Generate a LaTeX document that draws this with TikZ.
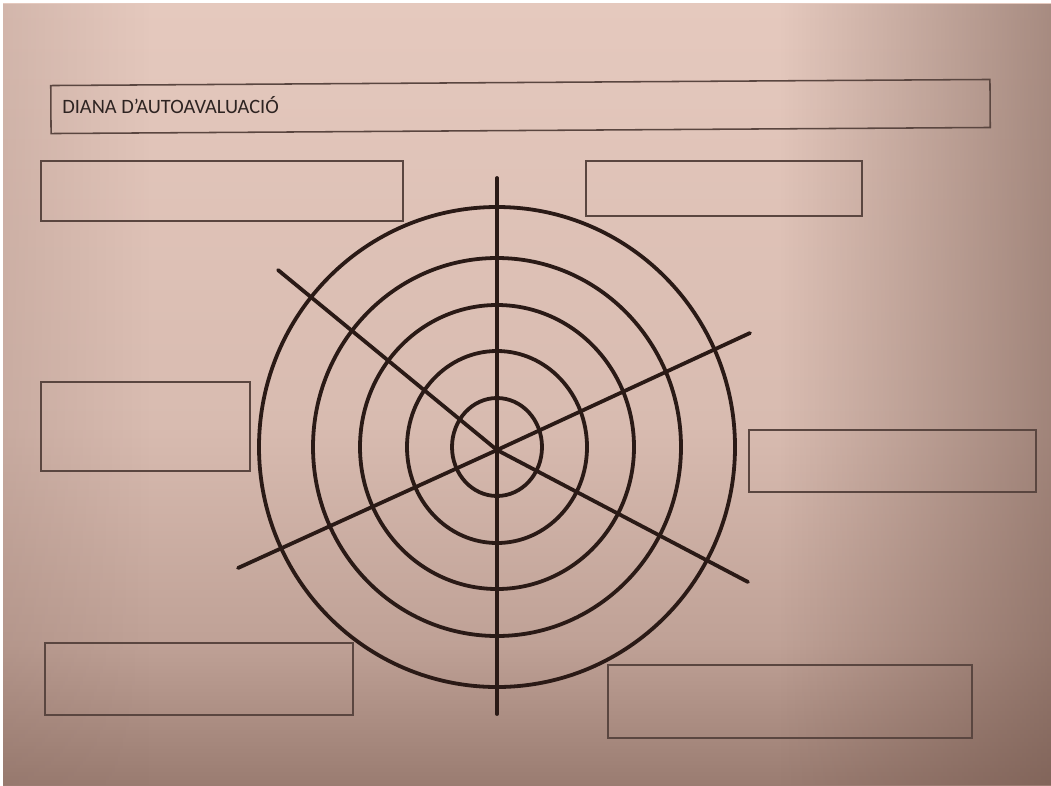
\documentclass[tikz,border=0pt]{standalone}
\usepackage{fontspec}
\setmainfont{Carlito}
\usetikzlibrary{fit,fadings}
\definecolor{paperTop}{HTML}{E5C9BE}
\definecolor{paperMid}{HTML}{D8BBB0}
\definecolor{paperLow}{HTML}{BFA196}
\definecolor{paperBot}{HTML}{9A7C71}
\definecolor{rightDark}{HTML}{6A4E44}
\definecolor{leftDark}{HTML}{8A6C62}
\definecolor{inkc}{HTML}{2A1A16}
\definecolor{boxc}{HTML}{5A4640}
\definecolor{textc}{HTML}{2E2422}
\pgfdeclareverticalshading{paperv}{100bp}{color(0bp)=(paperBot); color(25bp)=(paperBot); color(34bp)=(paperLow); color(48bp)=(paperMid); color(75bp)=(paperTop); color(100bp)=(paperTop)}
\begin{document}
\begin{tikzpicture}[x=0.025cm,y=-0.025cm,
  ink/.style={draw=inkc, line width=2.7pt, line cap=round},
  box/.style={draw=boxc, line width=1.1pt, inner sep=0pt}]
\useasboundingbox (0,0) rectangle (1051,785);
% paper
\fill[white] (0,0) rectangle (1051,785);
\shade[shading=paperv] (3,3) rectangle (1051,785);
\fill[rightDark, opacity=0.5, path fading=west] (780,3) rectangle (1051,785);
\fill[leftDark, opacity=0.2, path fading=east] (3,3) rectangle (150,785);
% boxes
\node[box, minimum width=23.475cm, minimum height=1.2cm, rotate=0.37] (title) at (520.5,106.5) {};
\node[anchor=west, text=textc, font=\fontsize{14.5}{16}\selectfont, inner sep=0pt] (ttext) at (62,105) {DIANA D’AUTOAVALUACIÓ};
\node[box, fit={(41,161)(403,221)}] (bTL) {};
\node[box, fit={(586,161)(862,216)}] (bTR) {};
\node[box, fit={(41,382)(250,471)}] (bML) {};
\node[box, fit={(749,430)(1036,492)}] (bMR) {};
\node[box, fit={(45,643)(353,715)}] (bBL) {};
\node[box, fit={(608,665)(972,738)}] (bBR) {};
% target
\coordinate (c) at (497,450);
\coordinate (o) at (497,447);
\coordinate (rN) at (497,178);
\coordinate (rS) at (497,714);
\coordinate (rNW) at (278,270);
\coordinate (rSE) at (748,582);
\coordinate (rNE) at (750,333);
\coordinate (rSW) at (238,568);
\foreach \rx/\ry in {45/49, 90/96, 137/142, 184/189, 238/240}
  \draw[ink] (o) ellipse [x radius=\rx, y radius=\ry];
\foreach \e in {rN,rS,rNW,rSE,rNE,rSW}
  \draw[ink] (c) -- (\e);
\end{tikzpicture}
\end{document}
